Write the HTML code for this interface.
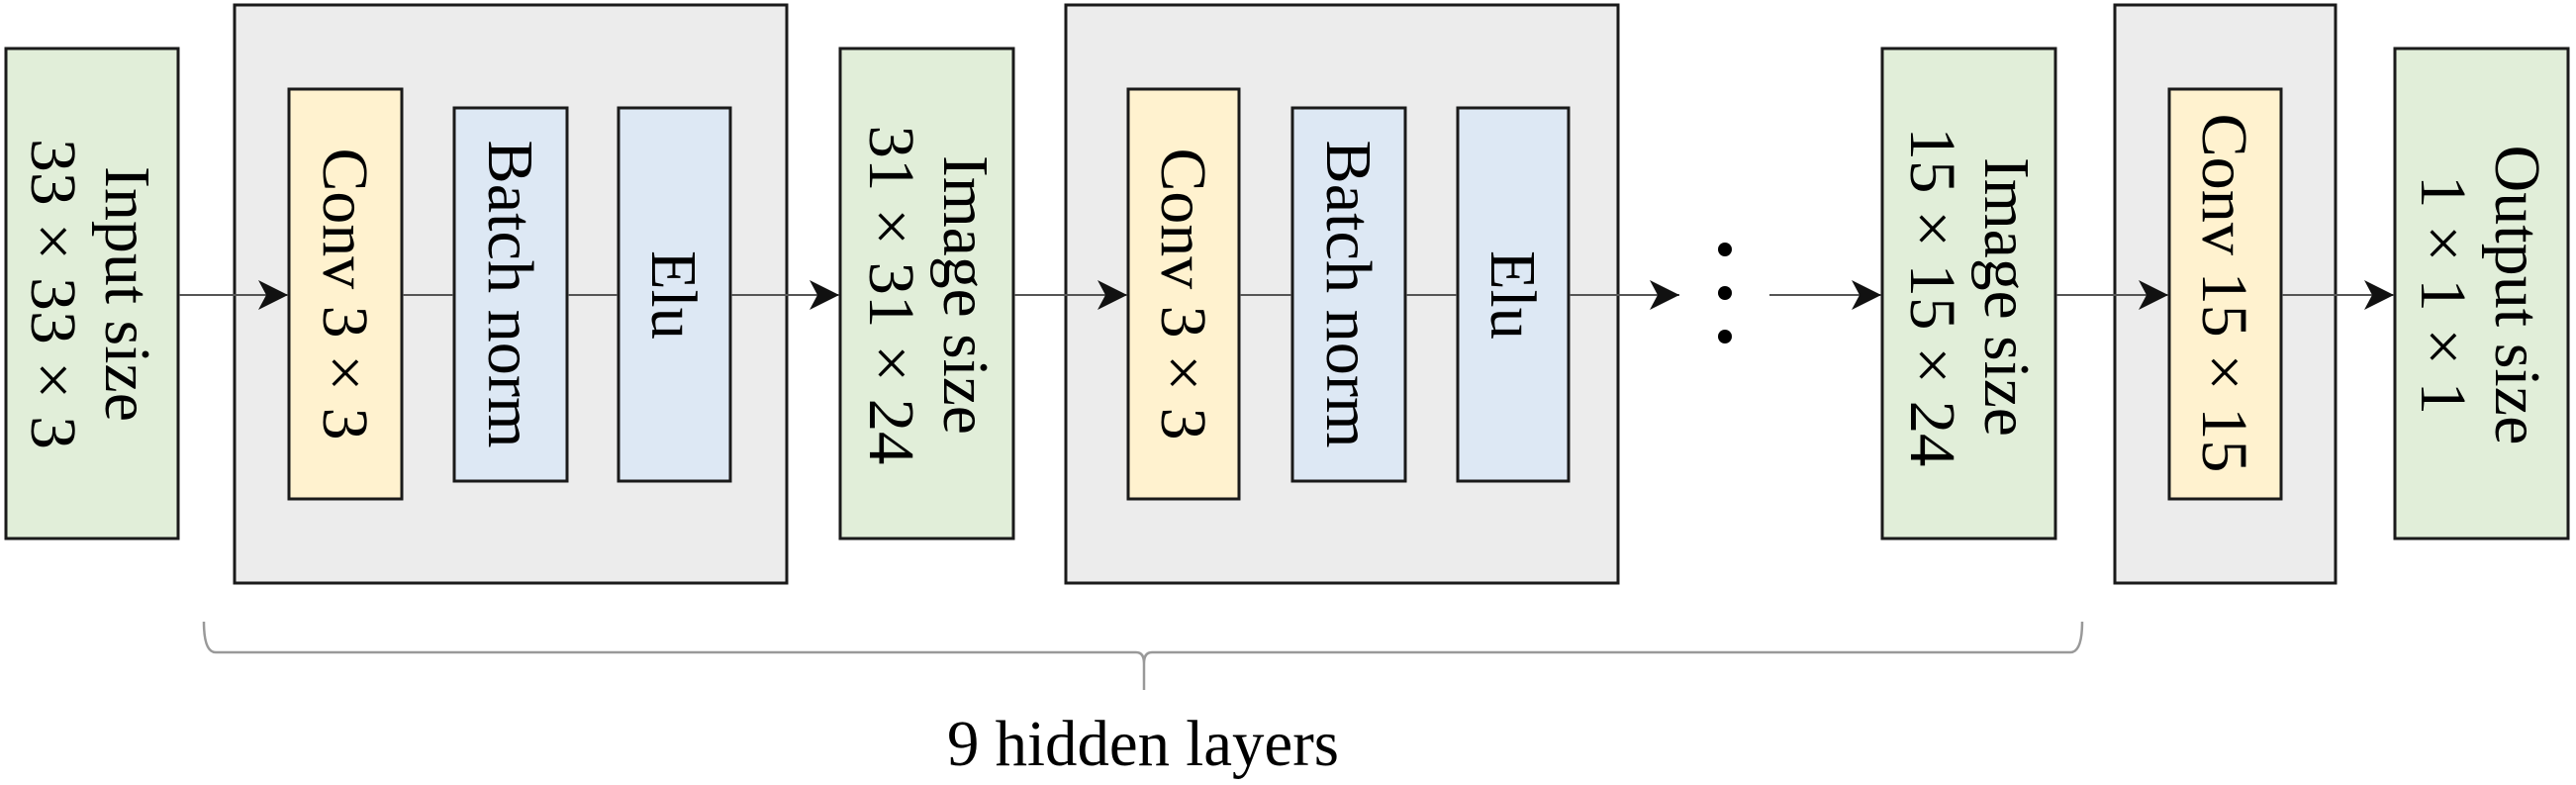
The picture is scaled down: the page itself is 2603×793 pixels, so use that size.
<!DOCTYPE html>
<html><head><meta charset="utf-8"><style>
html,body{margin:0;padding:0;background:#fff;}
svg{display:block;}
text{font-family:"Liberation Serif",serif;font-size:66px;fill:#000;}
</style></head><body>
<svg width="2603" height="793" viewBox="0 0 2603 793" xmlns="http://www.w3.org/2000/svg">
<defs>
<marker id="a" markerWidth="32" markerHeight="30" refX="30" refY="15" markerUnits="userSpaceOnUse" orient="auto">
<path d="M0,0 L30,15 L0,30 L8,15 Z" fill="#111"/>
</marker>
</defs>
<g stroke="#1a1a1a" stroke-width="3">
<!-- big gray boxes -->
<rect x="237" y="5" width="558" height="584" fill="#ececec"/>
<rect x="1077" y="5" width="558" height="584" fill="#ececec"/>
<rect x="2137" y="5" width="223" height="584" fill="#ececec"/>
<!-- green -->
<rect x="6" y="49" width="174" height="495" fill="#e1eed9"/>
<rect x="849" y="49" width="175" height="495" fill="#e1eed9"/>
<rect x="1902" y="49" width="175" height="495" fill="#e1eed9"/>
<rect x="2420" y="49" width="175" height="495" fill="#e1eed9"/>
<!-- conv -->
<rect x="292" y="90" width="114" height="414" fill="#fff2cf"/>
<rect x="1140" y="90" width="112" height="414" fill="#fff2cf"/>
<rect x="2192" y="90" width="113" height="414" fill="#fff2cf"/>
<!-- bn/elu -->
<rect x="459" y="109" width="114" height="377" fill="#dde8f4"/>
<rect x="625" y="109" width="113" height="377" fill="#dde8f4"/>
<rect x="1306" y="109" width="114" height="377" fill="#dde8f4"/>
<rect x="1473" y="109" width="112" height="377" fill="#dde8f4"/>
</g>
<g stroke="#555" stroke-width="2" fill="none">
<line x1="181" y1="298" x2="291" y2="298" marker-end="url(#a)"/>
<line x1="407" y1="298" x2="458" y2="298"/>
<line x1="574" y1="298" x2="624" y2="298"/>
<line x1="739" y1="298" x2="848" y2="298" marker-end="url(#a)"/>
<line x1="1025" y1="298" x2="1139" y2="298" marker-end="url(#a)"/>
<line x1="1253" y1="298" x2="1305" y2="298"/>
<line x1="1421" y1="298" x2="1472" y2="298"/>
<line x1="1586" y1="298" x2="1697" y2="298" marker-end="url(#a)"/>
<line x1="1788" y1="298" x2="1901" y2="298" marker-end="url(#a)"/>
<line x1="2078" y1="298" x2="2191" y2="298" marker-end="url(#a)"/>
<line x1="2306" y1="298" x2="2419" y2="298" marker-end="url(#a)"/>
</g>
<g fill="#000">
<circle cx="1743" cy="252" r="7"/>
<circle cx="1743" cy="296" r="7"/>
<circle cx="1743" cy="340" r="7"/>
</g>
<path d="M206,628 Q206,659 218,659 L1148,659 Q1156,659 1156,670 L1156,697 M1156,670 Q1156,659 1164,659 L2092,659 Q2104,659 2104,628" stroke="#999" stroke-width="2.5" fill="none"/>
<text x="957" y="773" textLength="396" lengthAdjust="spacingAndGlyphs">9 hidden layers</text>
<g text-anchor="middle">
<g transform="translate(93,297) rotate(90)"><text y="-14" textLength="258" lengthAdjust="spacingAndGlyphs">Input size</text><text y="61" textLength="314" lengthAdjust="spacingAndGlyphs">33 × 33 × 3</text></g>
<g transform="translate(349,297) rotate(90)"><text y="22" textLength="295" lengthAdjust="spacingAndGlyphs">Conv 3 × 3</text></g>
<g transform="translate(516,297) rotate(90)"><text y="22" textLength="311" lengthAdjust="spacingAndGlyphs">Batch norm</text></g>
<g transform="translate(681,298) rotate(90)"><text y="22" textLength="90" lengthAdjust="spacingAndGlyphs">Elu</text></g>
<g transform="translate(936,298) rotate(90)"><text y="-18" textLength="282" lengthAdjust="spacingAndGlyphs">Image size</text><text y="57" textLength="343" lengthAdjust="spacingAndGlyphs">31 × 31 × 24</text></g>
<g transform="translate(1196,297) rotate(90)"><text y="22" textLength="295" lengthAdjust="spacingAndGlyphs">Conv 3 × 3</text></g>
<g transform="translate(1363,297) rotate(90)"><text y="22" textLength="311" lengthAdjust="spacingAndGlyphs">Batch norm</text></g>
<g transform="translate(1529,298) rotate(90)"><text y="22" textLength="90" lengthAdjust="spacingAndGlyphs">Elu</text></g>
<g transform="translate(1989,300) rotate(90)"><text y="-17" textLength="282" lengthAdjust="spacingAndGlyphs">Image size</text><text y="58" textLength="343" lengthAdjust="spacingAndGlyphs">15 × 15 × 24</text></g>
<g transform="translate(2248,296) rotate(90)"><text y="22" textLength="363" lengthAdjust="spacingAndGlyphs">Conv 15 × 15</text></g>
<g transform="translate(2507,298) rotate(90)"><text y="-15" textLength="303" lengthAdjust="spacingAndGlyphs">Output size</text><text y="60" textLength="242" lengthAdjust="spacingAndGlyphs">1 × 1 × 1</text></g>
</g>
</svg>
</body></html>
